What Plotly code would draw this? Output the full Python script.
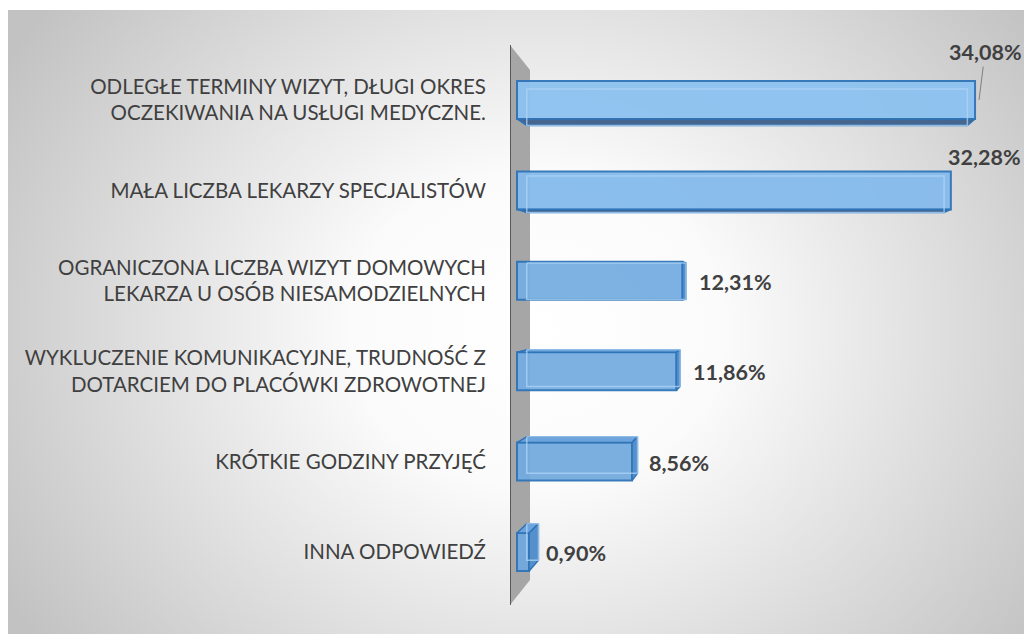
import base64
import plotly.graph_objects as go

# --- data ---------------------------------------------------------------
categories = [
    "ODLEGŁE TERMINY WIZYT, DŁUGI OKRES<br>OCZEKIWANIA NA USŁUGI MEDYCZNE.",
    "MAŁA LICZBA LEKARZY SPECJALISTÓW",
    "OGRANICZONA LICZBA WIZYT DOMOWYCH<br>LEKARZA U OSÓB NIESAMODZIELNYCH",
    "WYKLUCZENIE KOMUNIKACYJNE, TRUDNOŚĆ Z<br>DOTARCIEM DO PLACÓWKI ZDROWOTNEJ",
    "KRÓTKIE GODZINY PRZYJĘĆ",
    "INNA ODPOWIEDŹ",
]
values = [34.08, 32.28, 12.31, 11.86, 8.56, 0.90]
value_labels = ["34,08%", "32,28%", "12,31%", "11,86%", "8,56%", "0,90%"]

# --- styling ------------------------------------------------------------
front_colors = ["#8cc2f0", "#85bbec", "#77aee2", "#76ade1", "#74abdf", "#72a9de"]
edge_color = "#2f74b8"
TEXT = "#404040"
FONT = "Lato"

W, H = 1024, 634
ML, MT = 8, 10
# pixel geometry of the value and category scales
X0_PX, PX_PER_UNIT = 517.0, 13.44
Y0_PX, PX_PER_CAT = 100.0, 90.4
BAR_W = 0.42


def dx(px):
    return (px - X0_PX) / PX_PER_UNIT


def dy(py):
    return (py - Y0_PX) / PX_PER_CAT


pos = list(range(len(values)))

# perspective: the far face of each box shrinks toward a vanishing point
VX, VY, K = dx(774), dy(290), 0.962


def back(x, y):
    return VX + (x - VX) * K, VY + (y - VY) * K


fig = go.Figure()

# side faces of the 3-D boxes
for i, v in zip(pos, values):
    top, bot = i - BAR_W / 2, i + BAR_W / 2
    fl_t, fr_t = (0, top), (v, top)
    fl_b, fr_b = (0, bot), (v, bot)
    bl_t, br_t = back(*fl_t), back(*fr_t)
    bl_b, br_b = back(*fl_b), back(*fr_b)
    faces = []
    if bot < VY:  # underside visible
        faces.append(([fl_b, fr_b, br_b, bl_b], "#45668f"))
    if top > VY:  # upper side visible
        faces.append(([fl_t, fr_t, br_t, bl_t], "#6da4dc"))
    if v < VX:  # right side visible
        faces.append(([fr_t, br_t, br_b, fr_b], "#5590cc"))
    for pts, col in faces:
        xs = [p[0] for p in pts] + [pts[0][0]]
        ys = [p[1] for p in pts] + [pts[0][1]]
        fig.add_trace(go.Scatter(
            x=xs, y=ys, mode="lines", fill="toself", fillcolor=col,
            line=dict(color=edge_color, width=1.5), hoverinfo="skip",
            showlegend=False, xaxis="x", yaxis="y"))

# front faces
fig.add_trace(go.Bar(
    x=values, y=pos, orientation="h", width=BAR_W,
    marker=dict(color=front_colors, line=dict(color=edge_color, width=2)),
    opacity=0.95, hoverinfo="skip", showlegend=False))

# far edges showing through the translucent front faces
for i, v in zip(pos, values):
    top, bot = i - BAR_W / 2, i + BAR_W / 2
    corners = [back(0, top), back(v, top), back(v, bot), back(0, bot), back(0, top)]
    fig.add_trace(go.Scatter(
        x=[c[0] for c in corners], y=[c[1] for c in corners], mode="lines",
        line=dict(color="rgba(175,212,246,0.75)", width=1.5),
        hoverinfo="skip", showlegend=False))

# background: soft radial gradient
svg = (
    '<svg xmlns="http://www.w3.org/2000/svg" width="1016" height="624" '
    'viewBox="0 0 1016 624" preserveAspectRatio="none"><defs>'
    '<radialGradient id="g" gradientUnits="userSpaceOnUse" cx="530" cy="320" r="620" '
    'gradientTransform="translate(530 320) scale(1 0.85) translate(-530 -320)">'
    '<stop offset="0" stop-color="#ffffff"/><stop offset="0.3" stop-color="#fbfbfb"/>'
    '<stop offset="1" stop-color="#c2c2c2"/></radialGradient></defs>'
    '<rect width="1016" height="624" fill="url(#g)"/></svg>'
)
bg_uri = "data:image/svg+xml;base64," + base64.b64encode(svg.encode()).decode()

shapes = [
    # side wall
    dict(type="path", xref="x", yref="y",
         path=f"M {dx(510)},{dy(45)} L {dx(530)},{dy(70)} L {dx(530)},{dy(580)} L {dx(510)},{dy(605)} Z",
         fillcolor="#a6a6a6", line=dict(width=0), layer="below"),
    # axis edge
    dict(type="line", xref="x", yref="y", x0=dx(509), x1=dx(509), y0=dy(45), y1=dy(605),
         line=dict(color="#3f3f3f", width=3.5), layer="below"),
]

annotations = []
lab_font = dict(family=FONT, size=21.5, color=TEXT, weight="bold")
for i, (v, t) in enumerate(zip(values, value_labels)):
    if i == 0:
        annotations.append(dict(x=v, y=i, xref="x", yref="y", text=f"<b>{t}</b>",
                                showarrow=True, arrowhead=0, arrowwidth=1,
                                arrowcolor="#808080", ax=6, ay=-48, xshift=4,
                                font=lab_font))
    elif i == 1:
        # pushed against the right edge of the chart area
        annotations.append(dict(x=1, y=i, xref="paper", yref="y", text=f"<b>{t}</b>",
                                showarrow=False, xanchor="right", xshift=-1, yshift=33,
                                font=lab_font))
    else:
        annotations.append(dict(x=v, y=i, xref="x", yref="y", text=f"<b>{t}</b>",
                                showarrow=False, xanchor="left", xshift=15, yshift=-1,
                                font=lab_font))

fig.update_layout(
    width=W, height=H,
    margin=dict(l=ML, r=0, t=MT, b=0, pad=0),
    paper_bgcolor="white", plot_bgcolor="rgba(0,0,0,0)",
    images=[dict(source=bg_uri, xref="paper", yref="paper", x=0, y=1,
                 sizex=1, sizey=1, sizing="stretch", xanchor="left",
                 yanchor="top", layer="below")],
    shapes=shapes, annotations=annotations,
    xaxis=dict(domain=[(510 - ML) / (W - ML), 1], range=[dx(510), dx(1024)],
               visible=False, fixedrange=True),
    yaxis=dict(domain=[0, 1], range=[dy(634), dy(10)],
               tickvals=pos, ticktext=categories,
               ticks="outside", ticklen=19, tickcolor="rgba(0,0,0,0)",
               showline=False, showgrid=False, zeroline=False,
               tickfont=dict(family=FONT, size=20.5, color=TEXT), fixedrange=True),
    showlegend=False,
)

fig.write_html("out.html")
